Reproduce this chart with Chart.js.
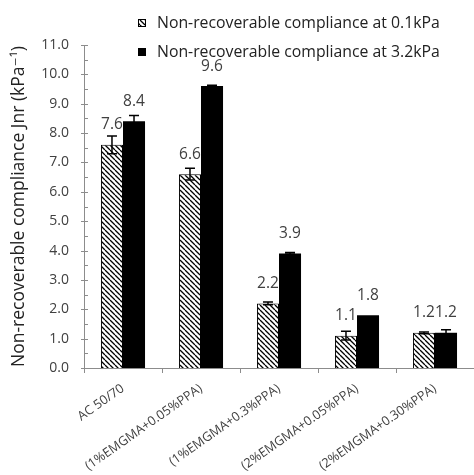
<!DOCTYPE html>
<html>
<head>
<meta charset="utf-8">
<script src="https://cdn.jsdelivr.net/npm/chart.js@4.4.1/dist/chart.umd.min.js"></script>
<style>
  html, body { margin: 0; padding: 0; background: #fff; }
  canvas { display: block; }
</style>
</head>
<body>
<canvas id="c" width="474" height="475"></canvas>
<script>
// Binder samples and their non-recoverable creep compliance (kPa^-1)
const categories = ['AC 50/70', '(1%EMGMA+0.05%PPA)', '(1%EMGMA+0.3%PPA)', '(2%EMGMA+0.05%PPA)', '(2%EMGMA+0.30%PPA)'];
const seriesNames = ['Non-recoverable compliance at 0.1kPa', 'Non-recoverable compliance at 3.2kPa'];
const jnrAt01 = [7.6, 6.6, 2.2, 1.1, 1.2];
const jnrAt32 = [8.4, 9.6, 3.9, 1.8, 1.2];
const errAt01 = [0.3, 0.2, 0.05, 0.15, 0.03];
const errAt32 = [0.2, 0.03, 0.03, 0, 0.1];
const yMin = 0, yMax = 11, yStep = 1, yMinorStep = 0.5;

const AXIS_GREY = '#8c8c8c';
const TEXT_GREY = '#404040';
const FONT = "'Open Sans', 'DejaVu Sans', sans-serif";

// Diagonal hatch fill for the 0.1 kPa series
function makeHatch() {
  const s = 5;
  const c = document.createElement('canvas');
  c.width = s; c.height = s;
  const g = c.getContext('2d');
  g.fillStyle = '#fff';
  g.fillRect(0, 0, s, s);
  g.strokeStyle = '#000';
  g.lineWidth = 1.3;
  g.beginPath();
  for (let k = -1; k <= 1; k++) {
    g.moveTo(k * s, 0);
    g.lineTo(k * s + s, s);
  }
  g.stroke();
  return g.createPattern(c, 'repeat');
}
const hatch = makeHatch();

const errors = [errAt01, errAt32];

// Error bars drawn from the value +/- error through the y scale
const errorBars = {
  id: 'errorBars',
  afterDatasetsDraw(chart) {
    const ctx = chart.ctx;
    const ys = chart.scales.y;
    ctx.save();
    ctx.strokeStyle = '#000';
    ctx.lineWidth = 1.5;
    chart.data.datasets.forEach((ds, di) => {
      const meta = chart.getDatasetMeta(di);
      meta.data.forEach((el, i) => {
        const e = errors[di][i];
        if (!e) return;
        const v = ds.data[i];
        const top = ys.getPixelForValue(v + e);
        const bot = ys.getPixelForValue(v - e);
        ctx.beginPath();
        ctx.moveTo(el.x, top); ctx.lineTo(el.x, bot);
        ctx.moveTo(el.x - 5, top); ctx.lineTo(el.x + 5, top);
        ctx.moveTo(el.x - 5, bot); ctx.lineTo(el.x + 5, bot);
        ctx.stroke();
      });
    });
    ctx.restore();
  }
};

// Value labels above each bar
const valueLabels = {
  id: 'valueLabels',
  afterDatasetsDraw(chart) {
    const ctx = chart.ctx;
    ctx.save();
    ctx.font = '15.5px ' + FONT;
    ctx.fillStyle = TEXT_GREY;
    ctx.textAlign = 'center';
    ctx.textBaseline = 'middle';
    chart.data.datasets.forEach((ds, di) => {
      const meta = chart.getDatasetMeta(di);
      meta.data.forEach((el, i) => {
        ctx.fillText(ds.data[i].toFixed(1), el.x, el.y - 20);
      });
    });
    ctx.restore();
  }
};

// Y axis tick marks: major ticks cross the axis, minor ticks point inward
const yTickMarks = {
  id: 'yTickMarks',
  afterDraw(chart) {
    const ctx = chart.ctx;
    const ys = chart.scales.y;
    const x0 = chart.chartArea.left;
    ctx.save();
    ctx.strokeStyle = AXIS_GREY;
    ctx.lineWidth = 1;
    ctx.beginPath();
    for (let v = yMin; v <= yMax + 1e-9; v += yMinorStep) {
      const y = Math.round(ys.getPixelForValue(v)) + 0.5;
      const major = Math.abs(v - Math.round(v)) < 1e-9;
      ctx.moveTo(major ? x0 - 3 : x0, y);
      ctx.lineTo(x0 + 4, y);
    }
    ctx.stroke();
    ctx.restore();
  }
};

// Legend stacked in the upper right, overlapping the plot top
const sideLegend = {
  id: 'sideLegend',
  afterDraw(chart) {
    const ctx = chart.ctx;
    ctx.save();
    ctx.font = '15.8px ' + FONT;
    ctx.textBaseline = 'middle';
    ctx.textAlign = 'left';
    const rows = [23, 52];
    chart.data.datasets.forEach((ds, di) => {
      const cy = rows[di];
      ctx.fillStyle = ds.backgroundColor;
      ctx.fillRect(138, cy - 4, 8, 8);
      ctx.strokeStyle = '#000';
      ctx.lineWidth = 1;
      ctx.strokeRect(138.5, cy - 3.5, 7, 7);
      ctx.fillStyle = '#222';
      ctx.fillText(ds.label, 157, cy);
    });
    ctx.restore();
  }
};

new Chart(document.getElementById('c'), {
  type: 'bar',
  data: {
    labels: categories,
    datasets: [
      { label: seriesNames[0], data: jnrAt01, backgroundColor: hatch, borderColor: '#000', borderWidth: 1 },
      { label: seriesNames[1], data: jnrAt32, backgroundColor: '#000', borderColor: '#000', borderWidth: 0 }
    ]
  },
  options: {
    responsive: false,
    animation: false,
    devicePixelRatio: 1,
    layout: { padding: { top: 45, right: 0, left: 0, bottom: 0 } },
    datasets: { bar: { categoryPercentage: 0.565, barPercentage: 1.0 } },
    plugins: { legend: { display: false }, tooltip: { enabled: false } },
    scales: {
      x: {
        offset: true,
        grid: { display: true, drawOnChartArea: false, offset: true, tickLength: 5, color: AXIS_GREY },
        border: { display: true, color: AXIS_GREY, width: 1 },
        ticks: { minRotation: 35, maxRotation: 35, padding: 8, color: TEXT_GREY, font: { family: FONT, size: 12.8 } },
        afterFit(scale) { scale.height = 107; }
      },
      y: {
        min: yMin, max: yMax,
        grid: { display: false, drawTicks: false },
        border: { display: true, color: AXIS_GREY, width: 1 },
        ticks: {
          stepSize: yStep, padding: 15, color: TEXT_GREY,
          font: { family: FONT, size: 14 },
          callback: v => Number(v).toFixed(1)
        },
        title: {
          display: true,
          text: 'Non-recoverable compliance Jnr (kPa⁻¹)',
          color: '#222',
          font: { family: FONT, size: 17.5 },
          padding: { top: 9, bottom: 0 }
        },
        afterFit(scale) { scale.width = 84; }
      }
    }
  },
  plugins: [errorBars, valueLabels, yTickMarks, sideLegend]
});
</script>
</body>
</html>
